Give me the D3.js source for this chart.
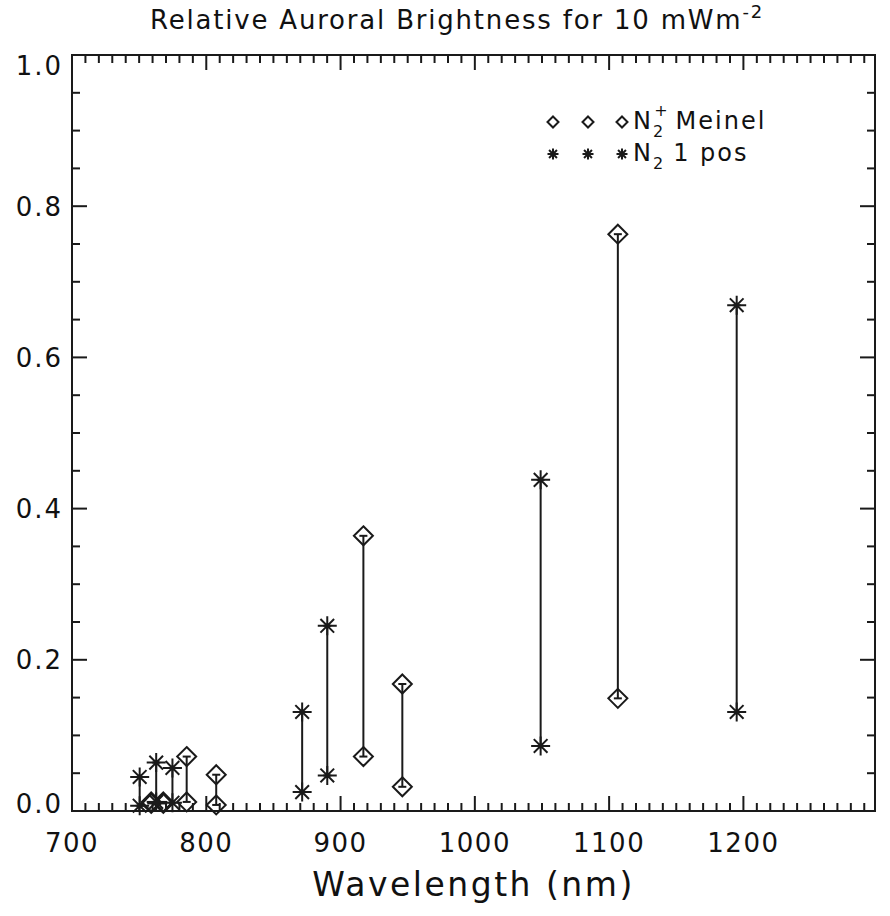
<!DOCTYPE html>
<html>
<head>
<meta charset="utf-8">
<script src="https://cdn.jsdelivr.net/npm/d3@7"></script>
<style>
  body { margin: 0; background: #fff; }
  text { font-family: "DejaVu Sans", sans-serif; fill: #111; }
</style>
</head>
<body>
<div id="chart"></div>
<script>
// Relative auroral brightness, IDL-style plot
const WIDTH = 890;
const HEIGHT = 916;

// N2+ Meinel bands (diamonds): wavelength, low and high brightness
const meinelWave = [759, 768, 785.4, 807.4, 917, 946, 1106.5];
const meinelLow  = [0.010, 0.010, 0.012, 0.008, 0.072, 0.032, 0.149];
const meinelHigh = [0.012, 0.012, 0.072, 0.048, 0.364, 0.168, 0.763];

// N2 1st positive bands (asterisks)
const n2Wave = [750.4, 762.7, 774.8, 871.4, 890.1, 1049, 1195];
const n2Low  = [0.007, 0.012, 0.011, 0.025, 0.047, 0.086, 0.131];
const n2High = [0.045, 0.064, 0.057, 0.131, 0.245, 0.438, 0.669];

const xTicks = [700, 800, 900, 1000, 1100, 1200];
const yTicks = [0.0, 0.2, 0.4, 0.6, 0.8, 1.0];

const margin = { top: 55, right: 15, bottom: 105, left: 72 };
const x0 = margin.left, x1 = WIDTH - margin.right;
const y0 = HEIGHT - margin.bottom, y1 = margin.top;

const x = d3.scaleLinear().domain([700, 1298]).range([x0, x1]);
const y = d3.scaleLinear().domain([0, 1]).range([y0, y1]);

const svg = d3.select("#chart").append("svg")
  .attr("width", WIDTH).attr("height", HEIGHT);

const ink = "#1a1a1a";

// frame
svg.append("rect")
  .attr("x", x0).attr("y", y1)
  .attr("width", x1 - x0).attr("height", y0 - y1)
  .attr("fill", "none").attr("stroke", ink).attr("stroke-width", 2);

// x ticks (bottom + top), minor every 10 nm
const xMinor = d3.range(700, 1298, 10);
const tk = svg.append("g").attr("stroke", ink).attr("stroke-width", 2);
xMinor.forEach(v => {
  const len = v % 100 === 0 ? 15 : 8;
  tk.append("line").attr("x1", x(v)).attr("x2", x(v)).attr("y1", y0).attr("y2", y0 - len);
  tk.append("line").attr("x1", x(v)).attr("x2", x(v)).attr("y1", y1).attr("y2", y1 + len);
});

// y ticks (left + right), minor every 0.05
const yMinor = d3.range(0, 21).map(i => i * 0.05);
yMinor.forEach((v, i) => {
  const len = i % 4 === 0 ? 15 : 8;
  tk.append("line").attr("x1", x0).attr("x2", x0 + len).attr("y1", y(v)).attr("y2", y(v));
  tk.append("line").attr("x1", x1).attr("x2", x1 - len).attr("y1", y(v)).attr("y2", y(v));
});

// tick labels
svg.append("g").selectAll("text").data(xTicks).join("text")
  .attr("x", d => x(d)).attr("y", 852)
  .attr("text-anchor", "middle")
  .attr("font-size", 26)
  .attr("letter-spacing", 1.5)
  .text(d => d);

svg.append("g").selectAll("text").data(yTicks).join("text")
  .attr("x", 63)
  .attr("y", d => Math.min(Math.max(y(d), y1 + 10), y0 - 8) + 9.5)
  .attr("text-anchor", "end")
  .attr("font-size", 26)
  .attr("letter-spacing", 2)
  .text(d => d.toFixed(1));

// axis title
svg.append("text")
  .attr("x", (x0 + x1) / 2).attr("y", 896)
  .attr("text-anchor", "middle")
  .attr("font-size", 33)
  .attr("letter-spacing", 2.5)
  .text("Wavelength (nm)");

// plot title
const title = svg.append("text")
  .attr("x", 457).attr("y", 29)
  .attr("text-anchor", "middle")
  .attr("font-size", 26)
  .attr("letter-spacing", 1.8);
title.append("tspan").text("Relative Auroral Brightness for 10 mWm");
title.append("tspan").attr("dy", -11).attr("font-size", 18).text("-2");

// symbols
function diamond(g, cx, cy, r) {
  g.append("path")
    .attr("d", `M${cx},${cy - r}L${cx + r},${cy}L${cx},${cy + r}L${cx - r},${cy}Z`)
    .attr("fill", "none").attr("stroke", ink).attr("stroke-width", 2);
}
function asterisk(g, cx, cy, r) {
  const d = r * 0.72;
  g.append("path")
    .attr("d", `M${cx - r},${cy}H${cx + r}M${cx},${cy - r}V${cy + r}` +
      `M${cx - d},${cy - d}L${cx + d},${cy + d}M${cx - d},${cy + d}L${cx + d},${cy - d}`)
    .attr("fill", "none").attr("stroke", ink).attr("stroke-width", 2);
}

const marks = svg.append("g");
function drawSeries(waves, lows, highs, sym) {
  waves.forEach((w, i) => {
    const cx = x(w), ya = y(lows[i]), yb = y(highs[i]);
    marks.append("line").attr("x1", cx).attr("x2", cx).attr("y1", ya).attr("y2", yb)
      .attr("stroke", ink).attr("stroke-width", 2);
    [ya, yb].forEach(yy => marks.append("line")
      .attr("x1", cx - 4).attr("x2", cx + 4).attr("y1", yy).attr("y2", yy)
      .attr("stroke", ink).attr("stroke-width", 2));
    sym(marks, cx, ya, 9.5);
    sym(marks, cx, yb, 9.5);
  });
}
drawSeries(meinelWave, meinelLow, meinelHigh, diamond);
drawSeries(n2Wave, n2Low, n2High, asterisk);

// legend
const leg = svg.append("g");
const legX = [553, 588, 622];
legX.forEach(lx => diamond(leg, lx, 122, 5.5));
legX.forEach(lx => asterisk(leg, lx, 154, 5.5));

const l1 = leg.append("text").attr("x", 633).attr("y", 129)
  .attr("font-size", 24).attr("letter-spacing", 2);
l1.append("tspan").text("N");
l1.append("tspan").attr("font-size", 16).attr("dy", 8).text("2");
l1.append("tspan").attr("font-size", 16).attr("dx", -11).attr("dy", -21).text("+");
l1.append("tspan").attr("dy", 13).attr("dx", 6).text("Meinel");

const l2 = leg.append("text").attr("x", 633).attr("y", 161)
  .attr("font-size", 24).attr("letter-spacing", 2);
l2.append("tspan").text("N");
l2.append("tspan").attr("font-size", 16).attr("dy", 8).text("2");
l2.append("tspan").attr("dy", -8).attr("dx", 8).text("1 pos");
</script>
</body>
</html>
